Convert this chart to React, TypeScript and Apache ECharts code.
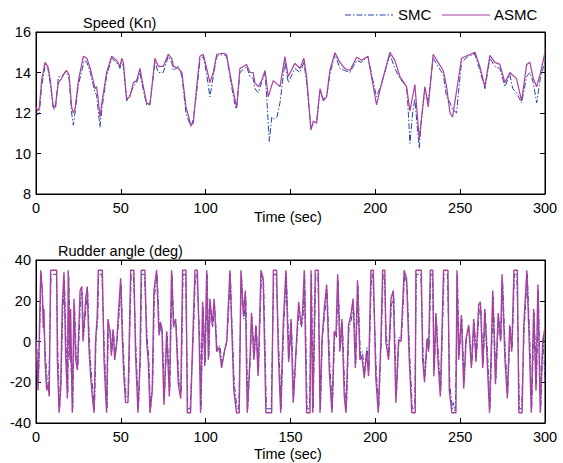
import React, { useEffect, useRef } from "react";
import * as echarts from "echarts";

const xTicks = [0, 50, 100, 150, 200, 250, 300];
const legendNames = ["SMC", "ASMC"];

const speedSMC: number[][] = [[0,12.0],[1,11.9],[2,12.0],[3.3,13.3],[5.5,14.4],[7,14.2],[8.5,13.4],[10.2,12.2],[11.5,12.2],[13.2,13.8],[15,13.8],[17,14.0],[18,14.0],[19.5,13.7],[21,12.0],[22,11.4],[23,12.0],[25,13.4],[28.5,14.6],[30,14.5],[32,14.0],[34.8,13.0],[35.7,12.9],[37.7,11.3],[39,12.3],[41.6,13.8],[44.6,14.7],[47.5,14.5],[49.5,14.2],[50.5,14.5],[51.5,14.3],[53.4,12.6],[55.3,12.9],[57.4,13.3],[59.3,13.5],[61.3,14.0],[62.3,13.5],[65.2,12.4],[67.2,12.5],[70.1,14.5],[72.1,14.0],[75,14.0],[78,14.8],[80,14.5],[81,14.1],[84,14.3],[86,13.8],[88.4,12.0],[91.3,11.3],[92.7,11.7],[94.7,13.0],[96.6,14.6],[98.6,14.8],[100.6,13.9],[102.5,12.8],[104.5,13.8],[106.5,14.8],[110.4,14.9],[112.3,14.8],[115.3,13.3],[117.7,12.2],[118.3,12.3],[120.2,14.0],[124.1,14.3],[126.1,13.8],[128,13.7],[129,13.2],[131,13.0],[133,13.5],[135,14.0],[136.2,12.5],[137.5,10.6],[139,11.8],[140,11.7],[142,11.8],[143.8,12.5],[146.7,14.5],[148.7,13.5],[152.6,14.2],[155.6,14.0],[157.9,14.5],[159.5,13.5],[162,11.3],[163.4,11.4],[165.4,11.6],[167.4,13.1],[169.3,12.7],[171.3,12.8],[173.2,13.9],[176.2,14.9],[179.1,14.2],[182,14.1],[185,14.0],[189,14.6],[191.9,14.5],[195.6,14.8],[198.6,13.6],[200.7,12.8],[203.5,13.4],[208.6,14.9],[211.5,14.2],[214.5,13.7],[218.4,13.3],[219.2,12.4],[220.4,10.5],[222,12.0],[223.3,12.7],[224.5,11.5],[225.9,10.25],[227,11.5],[229.2,13.2],[231.2,12.6],[234.1,14.7],[237,14.3],[240,13.9],[242,12.8],[243.5,12.6],[245.5,12.2],[247.9,12.0],[249,13.0],[250.8,14.5],[254.7,14.8],[258.7,14.9],[261.6,14.1],[264.6,13.2],[267.5,14.7],[270.5,14.3],[273.4,14.2],[276.4,13.3],[279.3,13.9],[281,13.2],[283.2,13.0],[286.2,12.5],[289.2,13.8],[291.1,14.0],[293.1,13.5],[295.1,12.5],[297.4,13.8],[300,14.5]];

const speedASMC: number[][] = [[0,12.3],[1,12.1],[2,12.3],[3.3,13.6],[5.3,14.5],[7,14.3],[8.5,13.6],[10.2,12.25],[11.5,12.4],[13.2,13.5],[15,13.7],[17,14.0],[18,14.1],[19.5,13.9],[21,12.3],[22,12.0],[23,12.2],[25,13.6],[27.9,14.8],[30,14.7],[32,14.2],[34.8,13.2],[35.7,13.3],[36.5,12.8],[37.7,11.8],[39,12.6],[41.6,14.0],[44.6,14.8],[47.5,14.6],[49.5,14.3],[50.5,14.7],[51.5,14.5],[53.4,12.7],[55.3,12.8],[57.4,13.5],[59.3,13.6],[61.3,14.2],[62.3,13.7],[65.2,12.5],[67.2,12.4],[70.1,14.7],[72.1,14.3],[75,14.3],[78,14.9],[80,14.7],[81,14.3],[84,14.2],[86,14.0],[88.4,12.3],[91.3,11.4],[92.7,11.5],[94.7,13.3],[96.6,14.8],[98.6,14.9],[100.6,14.2],[102.5,13.5],[104.5,14.0],[106.5,14.9],[110.4,14.95],[112.3,14.9],[115.3,13.5],[117.7,12.5],[118.3,12.3],[120.2,14.2],[124.1,14.4],[126.1,14.0],[128,14.0],[129,13.5],[131,13.3],[133,13.6],[135,14.1],[136.9,12.8],[139.8,13.6],[143.8,13.3],[146.7,14.78],[148.7,13.8],[152.6,14.45],[155.6,14.2],[157.9,14.7],[159.5,13.8],[162,11.16],[163.4,11.6],[165.4,11.5],[167.4,13.2],[169.3,12.6],[171.3,12.8],[173.2,14.1],[176.2,14.98],[179.1,14.5],[182,14.2],[185,14.1],[189,14.75],[191.9,14.6],[195.6,14.8],[198.6,13.4],[200.7,12.4],[203.5,13.4],[208.6,15.0],[211.5,14.6],[214.5,13.8],[218.4,13.3],[220.4,12.1],[223.3,13.4],[225.9,10.7],[229.2,13.3],[231.2,12.3],[234.1,14.9],[237,14.5],[240,14.1],[242,13.3],[244,12.0],[245.5,11.8],[247.9,13.1],[250.8,14.7],[254.7,14.85],[258.7,15.0],[261.6,14.3],[264.6,13.3],[267.5,14.85],[270.5,14.5],[273.4,14.4],[276.4,13.5],[279.3,14.0],[283.2,13.7],[286.2,12.6],[289.2,14.4],[291.1,14.5],[293.1,13.7],[295.1,13.3],[297.4,14.0],[300,15.0]];

const rudderSMC: number[][] = [[0,2],[0.6,-4],[1.5,-20],[3.0,33],[3.9,22],[4.6,8],[5.6,-6],[6.6,-20],[7.5,-22],[8.9,33],[12.0,33],[12.9,-5],[13.9,-33],[14.8,-20],[15.8,15],[16.8,30],[17.8,-4],[18.8,-25],[19.3,32],[20.3,-6],[21.7,-33],[22.7,18],[23.7,-6],[24.7,-12],[26.3,22],[27.3,24],[28,2],[29.6,18],[30.5,24],[31.5,-1],[32.5,-14],[33.5,-24],[34.5,-33],[35.4,2],[36.4,11],[37,33],[38.8,33],[40.4,-6],[41.4,-24],[41.9,-33],[42.7,9],[43.9,4],[44.7,-5],[45.7,5],[46.7,-7],[47.9,1],[49.2,16],[50.2,28],[51.2,2],[52.1,-15],[53.1,-27],[54.5,-27],[56.1,33],[57.4,33],[59,-5],[60.4,-33],[61.6,-7],[62.3,33],[63.9,33],[65.5,2],[66.5,-8],[67.5,-33],[68.8,-21],[69.8,22],[71.4,33],[72.8,4],[73.6,8],[74.5,5],[75.7,-28],[77.3,4],[78.9,-24],[80.2,33],[81.3,7],[82.6,9],[84.2,-18],[85.6,-25],[86.7,33],[88.1,33],[89.5,-33],[90.8,-33],[93,8],[94,33],[94.8,33],[96.5,2],[97.3,-33],[98.5,17],[99.8,-10],[100.9,33],[101.9,-7],[102.8,18],[104.2,7],[105.3,18],[106.8,-4],[108.3,-2],[109.7,-11],[111.3,-4],[112.7,1],[114.6,33],[115.5,9],[116.9,-21],[118.5,-33],[119.5,-33],[121.1,33],[122.5,11],[123.7,22],[124.8,-33],[126.4,-7],[127.3,12],[128.7,-7],[129.9,7],[131.2,-14],[132.9,33],[134.2,28],[135.8,-33],[138.6,-33],[140.2,33],[141.5,33],[143.1,-3],[144.5,-33],[146,7],[147.6,33],[149.2,-8],[150.6,9],[151.9,-27],[153.5,-3],[155.1,17],[156.5,7],[157.4,12],[158.4,33],[159.8,-33],[161.2,-33],[162.4,33],[163.4,-33],[164.9,33],[166.1,33],[167.7,-33],[168.8,2],[170.2,14],[171.6,25],[173.2,-12],[174.7,-33],[176.1,4],[177.1,2],[178.1,30],[179.4,-3],[180.6,9],[182,-24],[183,-33],[184.5,7],[185.9,11],[187.2,18],[188.5,-11],[189.8,27],[191.2,-7],[192.3,-5],[193.8,-15],[195.1,-3],[196.3,-14],[197.7,33],[198.5,33],[200.6,-15],[202,-33],[203.6,2],[204.6,33],[205.3,33],[206.5,2],[208.1,-7],[209.5,18],[210.9,22],[212.4,-27],[214,2],[215.4,1],[217.3,33],[218.7,28],[220.3,-7],[221.8,-33],[223.2,-33],[224.2,33],[226.8,33],[228.2,-7],[229.3,-17],[230.7,2],[231.7,-3],[232.7,33],[233.6,33],[234.8,-14],[236,12],[237.2,-7],[238.6,-24],[240.5,33],[242.5,33],[243.9,-21],[245.4,-33],[246,-30],[246.8,-34],[247.2,-33],[248.4,33],[249.4,-7],[251,11],[252.4,-20],[253.7,2],[255.3,7],[256.9,-11],[258.3,9],[259.6,-8],[261.2,15],[262.2,17],[263.6,-11],[264.8,14],[266.2,-7],[267.6,-33],[269.5,22],[271.1,-18],[272.7,12],[274.1,1],[275,30],[276.7,-7],[278.1,-25],[279.5,7],[280.7,-3],[282,33],[283.4,33],[284.9,-33],[286.2,-33],[287.8,7],[289.6,33],[291,2],[292.2,-33],[293.6,14],[295,-21],[296.1,25],[297.5,-33],[298.9,2],[300,-20]];

const rudderASMC: number[][] = [[0,0],[0.4,-6.5],[1.2,-24],[2.8,35],[3.7,25],[4.3,6.6],[4.7,16],[5.3,-9.5],[6.3,-24],[7.1,-21],[7.8,-27],[8.6,35],[12.2,35],[12.6,-9],[13.6,-35],[14.5,-24],[15.5,18],[16.5,34],[17.5,-7],[18.5,-28],[19,35],[20,-9],[20.4,16],[21.4,-35],[22.4,21],[23.4,-9],[24.4,-14],[26,25],[27,27],[27.7,0],[29.3,21],[30.2,27],[31.2,-3],[32.2,-17],[33.2,-27],[34.2,-35],[35.1,0],[36.1,13],[36.7,35],[39.1,35],[40.1,-9],[41.1,-27],[41.6,-35],[42.4,11],[43.6,5],[44.4,-7],[45.4,6],[46.4,-9],[47.6,0],[48.9,18],[49.9,31],[50.9,1],[51.8,-17],[52.8,-30],[54.2,-30],[55.8,35],[57.7,35],[58.7,-7],[60.1,-35],[61.3,-9],[62,35],[64.2,35],[65.2,0],[66.2,-10],[67.2,-35],[68.5,-24],[69.5,25],[71.1,35],[72.5,3],[73.3,9.6],[74.2,6.6],[75.4,-31],[77,5],[78.6,-27],[79.9,35],[81,8],[82.3,11],[83.9,-21],[85.3,-28],[86.4,35],[88.4,35],[89.2,-35],[91.1,-35],[92.7,9.6],[93.7,35],[95.1,35],[96.2,0],[97,-35],[98.2,19.5],[99.5,-12],[100.6,35],[101.6,-9],[102.5,21],[103.9,8],[105,21],[106.5,-5],[108,-3],[109.4,-13],[111,-5],[112.4,0],[114.3,35],[115.2,11],[116.6,-24],[118.2,-35],[119.8,-35],[120.8,35],[122.2,13],[123.4,25],[124.5,-35],[126.1,-9],[127,14],[128.4,-9],[129.6,8],[130.9,-17],[132.6,35],[133.9,31],[135.5,-35],[138.9,-35],[139.9,35],[141.8,35],[142.8,-5],[144.2,-35],[145.7,8],[147.3,35],[148.9,-10],[150.3,11],[151.6,-30],[153.2,-5],[154.8,19.5],[156.2,8],[157.1,14],[158.1,35],[159.5,-35],[161.5,-35],[162.1,35],[163.1,-35],[164.6,35],[166.4,35],[167.4,-35],[168.5,0],[169.9,16],[171.3,28],[172.9,-15],[174.4,-35],[175.8,5],[176.8,3],[177.8,33],[179.1,-5],[180.3,11],[181.7,-27],[182.7,-35],[184.2,8],[185.6,13],[186.9,21],[188.2,-13],[189.5,30],[190.9,-9],[192,-7],[193.5,-18],[194.8,-5],[196,-17],[197.4,35],[198.8,35],[200.3,-18],[201.7,-35],[203.3,1],[204.3,35],[205.6,35],[206.2,0],[207.8,-9],[209.2,21],[210.6,25],[212.1,-30],[213.7,1],[215.1,0],[217,35],[218.4,31],[220,-9],[221.5,-35],[223.5,-35],[223.9,35],[227.1,35],[227.9,-9],[229,-20],[230.4,1],[231.4,-5],[232.4,35],[233.9,35],[234.5,-17],[235.7,14],[236.9,-9],[238.3,-27],[240.2,35],[242.8,35],[243.6,-24],[245.1,-35],[247.5,-35],[248.1,35],[249.1,-9],[250.7,13],[252.1,-23],[253.4,1],[255,8],[256.6,-13],[258,11],[259.3,-10],[260.9,18],[261.9,19.5],[263.3,-13],[264.5,16],[265.9,-9],[267.3,-35],[269.2,25],[270.8,-21],[272.4,14],[273.8,0],[274.7,33],[276.4,-9],[277.8,-28],[279.2,8],[280.4,-5],[281.7,35],[283.7,35],[284.6,-35],[286.5,-35],[287.5,8],[289.3,35],[290.7,0],[291.9,-35],[293.3,16],[294.7,-24],[295.8,28],[297.2,-35],[298.6,0],[299.8,6]];

const FONT = "Liberation Sans, Arial, sans-serif";
const SMC_COLOR = "#2845a5";
const ASMC_COLOR = "#a8409f";
const DASH_DOT = [6, 2, 1.5, 2];

export default function App() {
  const ref = useRef<HTMLDivElement>(null);
  useEffect(() => {
    if (!ref.current) return;
    const chart = echarts.init(ref.current, null, { renderer: "svg" });
    const axisLine = { show: true, onZero: false, lineStyle: { color: "#000", width: 1 } };
    const tick = { show: true, inside: true, length: 5, lineStyle: { color: "#000" } };
    const label = { color: "#000", fontSize: 14.5, fontFamily: FONT };
    const mkX = (gi: number, pos: "bottom" | "top", showLabel: boolean, hide150: boolean) => ({
      type: "value", gridIndex: gi, position: pos, min: 0, max: 300, interval: 50,
      axisLine, axisTick: tick, splitLine: { show: false },
      axisLabel: showLabel
        ? { ...label, margin: 6, formatter: (v: number) => (hide150 && v === xTicks[3] ? "" : String(v)) }
        : { show: false },
    });
    const mkY = (gi: number, pos: "left" | "right", min: number, max: number, interval: number, showLabel: boolean) => ({
      type: "value", gridIndex: gi, position: pos, min, max, interval,
      axisLine, axisTick: tick, splitLine: { show: false },
      axisLabel: showLabel ? { ...label, margin: 5 } : { show: false },
    });
    chart.setOption({
      animation: false,
      backgroundColor: "#fff",
      textStyle: { fontFamily: FONT },
      grid: [
        { left: 36, top: 32, width: 509, height: 162, show: true, borderColor: "#000", borderWidth: 1 },
        { left: 36, top: 260, width: 509, height: 163, show: true, borderColor: "#000", borderWidth: 1 },
      ],
      xAxis: [mkX(0, "bottom", true, true), mkX(0, "top", false, false), mkX(1, "bottom", true, false), mkX(1, "top", false, false)],
      yAxis: [
        mkY(0, "left", 8, 16, 2, true), mkY(0, "right", 8, 16, 2, false),
        mkY(1, "left", -40, 40, 20, true), mkY(1, "right", -40, 40, 20, false),
      ],
      graphic: [
        { type: "line", shape: { x1: 345, y1: 15, x2: 393, y2: 15 }, style: { stroke: SMC_COLOR, lineWidth: 1, lineDash: DASH_DOT } },
        { type: "text", left: 398, top: 7, style: { text: legendNames[0], fontSize: 15, fill: "#000", fontFamily: FONT } },
        { type: "line", shape: { x1: 442, y1: 15, x2: 490, y2: 15 }, style: { stroke: ASMC_COLOR, lineWidth: 1 } },
        { type: "text", left: 494, top: 7, style: { text: legendNames[1], fontSize: 15, fill: "#000", fontFamily: FONT } },
        { type: "text", left: 83, top: 15, style: { text: "Speed (Kn)", fontSize: 14.5, fill: "#000", fontFamily: FONT } },
        { type: "text", left: 58, top: 243, style: { text: "Rudder angle (deg)", fontSize: 14.5, fill: "#000", fontFamily: FONT } },
        { type: "text", left: 254, top: 209, style: { text: "Time (sec)", fontSize: 14.5, fill: "#000", fontFamily: FONT } },
        { type: "text", left: 254, top: 446, style: { text: "Time (sec)", fontSize: 14.5, fill: "#000", fontFamily: FONT } },
      ],
      series: [
        { name: "SMC", type: "line", xAxisIndex: 0, yAxisIndex: 0, data: speedSMC, showSymbol: false, symbol: "none",
          lineStyle: { color: SMC_COLOR, width: 1, type: DASH_DOT }, itemStyle: { color: SMC_COLOR } },
        { name: "ASMC", type: "line", xAxisIndex: 0, yAxisIndex: 0, data: speedASMC, showSymbol: false, symbol: "none",
          lineStyle: { color: ASMC_COLOR, width: 1.2 }, itemStyle: { color: ASMC_COLOR } },
        { name: "SMC", type: "line", xAxisIndex: 2, yAxisIndex: 2, data: rudderSMC, showSymbol: false, symbol: "none",
          lineStyle: { color: SMC_COLOR, width: 1, type: DASH_DOT }, itemStyle: { color: SMC_COLOR } },
        { name: "ASMC", type: "line", xAxisIndex: 2, yAxisIndex: 2, data: rudderASMC, showSymbol: false, symbol: "none",
          lineStyle: { color: ASMC_COLOR, width: 1.4 }, itemStyle: { color: ASMC_COLOR } },
      ],
    });
    return () => chart.dispose();
  }, []);
  return <div ref={ref} style={{ position: "fixed", left: 0, top: 0, width: 563, height: 463 }} />;
}
